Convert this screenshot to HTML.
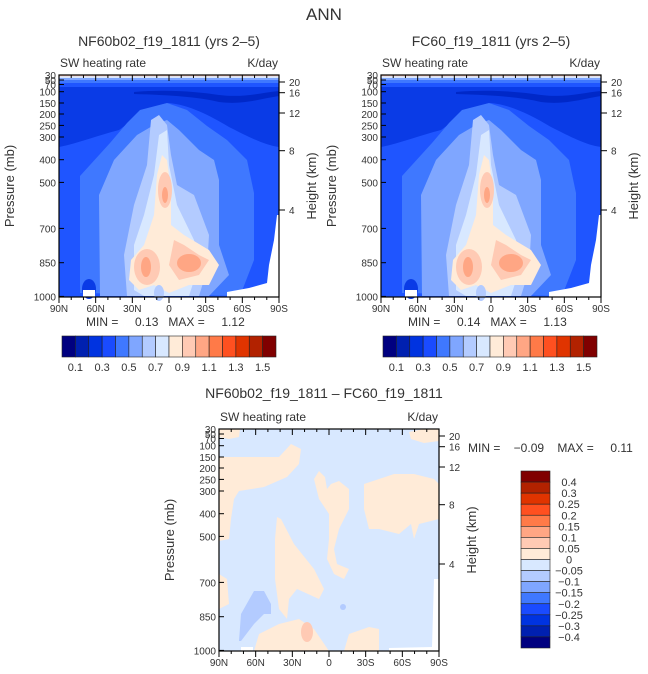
<!DOCTYPE html>
<html><head><meta charset="utf-8"><style>
html,body{margin:0;padding:0;background:#fff;}
svg{display:block;font-family:"Liberation Sans",sans-serif;fill:#333;}
.pre{white-space:pre;}
</style></head><body>
<svg id="s" width="648" height="674" viewBox="0 0 648 674" xmlns="http://www.w3.org/2000/svg">
<defs>
<g id="fld">
<rect x="0" y="0" width="220" height="222" fill="#0a3be6"/>
<path d="M75,17 C110,14 140,17 160,20 C185,23 200,18 220,16 L220,21 C200,24 185,30 160,27 C140,22 110,20 75,19Z" fill="#0028c8"/>
<path d="M0,72 C20,68 40,60 60,55 C80,40 95,30 110,28 C130,30 150,40 170,52 C190,62 205,70 220,72 L220,222 L0,222Z" fill="#1f55ff"/>
<path d="M21,218 L21,101 L51,68 L68,48 L81,35 L108,28 L128,35 L148,51 L168,65 L188,85 L195,118 L195,185 L181,221Z" fill="#3f78ff"/>
<path d="M41,221 L40,120 L55,85 L78,60 L95,50 L108,45 L120,55 L140,75 L155,85 L160,105 L160,170 L170,200 L150,221Z" fill="#7fa6ff"/>
<path d="M68,221 L65,180 L75,130 L88,90 L92,45 L100,40 L108,50 L112,80 L118,110 L135,120 L150,160 L148,195 L140,221Z" fill="#b3cbff"/>
<path d="M75,215 L75,170 L85,140 L95,100 L100,60 L108,55 L110,90 L118,130 L135,165 L140,190 L130,221 L85,221Z" fill="#d8e8ff"/>
<path d="M70,205 L72,185 L85,170 L95,140 L98,100 L103,80 L108,85 L112,115 L112,150 L125,160 L150,175 L160,190 L150,210 L130,210 L110,218 L95,210 L80,215Z" fill="#ffebd8"/>
<ellipse cx="88" cy="192" rx="13" ry="18" fill="#ffcab4"/>
<path d="M110,190 L115,165 L125,170 L140,180 L150,185 L140,200 L120,205Z" fill="#ffcab4"/>
<ellipse cx="106" cy="115" rx="7" ry="18" fill="#ffcab4"/>
<ellipse cx="87" cy="192" rx="5" ry="10" fill="#ffa684"/>
<ellipse cx="130" cy="188" rx="12" ry="9" fill="#ffa684"/>
<ellipse cx="106" cy="120" rx="3" ry="8" fill="#ffa684"/>
<ellipse cx="100" cy="218" rx="5" ry="8" fill="#b3cbff"/>
<ellipse cx="30" cy="214" rx="7" ry="10" fill="#0a3be6"/>
<rect x="0" y="0" width="220" height="12" fill="#1f55ff"/>
<rect x="0" y="0" width="220" height="8" fill="#3f78ff"/>
<rect x="0" y="0" width="220" height="5" fill="#7fa6ff"/>
<rect x="0" y="0" width="220" height="3" fill="#d8e8ff"/>
<rect x="0" y="0" width="220" height="1.3" fill="#ffcab4"/>
<rect x="24" y="215" width="12" height="7" fill="#fff"/>
<path d="M168,222 L168,217 L190,213 L208,208 L210,190 L215,165 L218,140 L220,140 L220,222Z" fill="#fff"/>
</g>
<g id="dfld">
<rect x="0" y="0" width="220" height="222" fill="#d8e8ff"/>
<g fill="#ffebd8">
<path d="M0,0 L21,0 L20,8 L10,10 L0,8Z"/>
<path d="M0,28 L60,28 L72,15 L82,20 L80,35 L68,48 L45,58 L20,62 L15,70 L12,90 L10,110 L0,112Z"/>
<path d="M58,88 L62,90 L75,115 L95,140 L105,160 L100,170 L78,160 L70,170 L68,190 L60,180 L56,150 L56,110Z"/>
<path d="M35,222 L40,205 L60,195 L80,190 L95,200 L110,222Z"/>
<path d="M95,50 L100,42 L106,48 L108,60 L112,55 L120,52 L130,60 L130,80 L120,100 L115,120 L118,135 L130,140 L125,150 L115,145 L108,130 L110,110 L110,85 L100,70Z"/>
<path d="M145,55 L160,50 L175,45 L195,45 L215,50 L220,55 L220,90 L200,95 L195,110 L192,95 L180,105 L160,100 L150,100 L145,80Z"/>
<path d="M190,3 L205,0 L220,0 L220,12 L205,14 L192,10Z"/>
<path d="M125,222 L130,205 L150,198 L160,200 L160,222Z"/>
<path d="M0,145 L8,150 L10,175 L0,180Z"/>
</g>
<ellipse cx="88" cy="203" rx="6" ry="10" fill="#ffcab4"/>
<path d="M20,212 L22,185 L35,162 L45,162 L52,175 L52,185 L45,185 L35,195 L22,212Z" fill="#b3cbff"/>
<ellipse cx="124" cy="178" rx="3" ry="3" fill="#b3cbff"/>
<rect x="22" y="218" width="12" height="4" fill="#fff"/>
<path d="M170,222 L170,219 L213,218 L215,150 L220,150 L220,222Z" fill="#fff"/>
</g>
</defs>
<text x="324" y="20" font-size="17" text-anchor="middle">ANN</text>
</svg>
<script>
var s=document.getElementById('s'),NS='http://www.w3.org/2000/svg';
function el(t,a,txt){var e=document.createElementNS(NS,t);for(var k in a)e.setAttribute(k,a[k]);if(txt!==undefined)e.textContent=txt;s.appendChild(e);return e;}
var P=[[30,0],[50,5],[70,9.5],[100,16.7],[150,28],[200,39],[250,50.4],[300,62],[400,84.7],[500,107.4],[700,153.4],[850,187.7],[1000,221.4]];
var H=[[20,7],[16,17.7],[12,38],[8,75.7],[4,135]];
var XL=['90N','60N','30N','0','30S','60S','90S'];
function panel(x0,y0,ref,title,mm){
  el('use',{href:'#'+ref,x:x0,y:y0});
  el('rect',{x:x0,y:y0,width:220,height:222,fill:'none',stroke:'#000','stroke-width':1.2});
  if(title)el('text',{x:x0+110,y:y0-29,'font-size':14,'text-anchor':'middle'},title);
  el('text',{x:x0+1,y:y0-8,'font-size':12},'SW heating rate');
  el('text',{x:x0+219,y:y0-8,'font-size':12,'text-anchor':'end'},'K/day');
  P.forEach(function(p){var y=y0+p[1];el('line',{x1:x0,y1:y,x2:x0+5,y2:y,stroke:'#000'});
    el('text',{x:x0-3,y:y+4,'font-size':10,'text-anchor':'end'},p[0]);});
  H.forEach(function(h){var y=y0+h[1];el('line',{x1:x0+220,y1:y,x2:x0+226,y2:y,stroke:'#000'});
    el('text',{x:x0+230,y:y+4,'font-size':10},h[0]);});
  for(var i=0;i<=18;i++){var x=x0+i*220/18,L=(i%3==0)?6:3;
    el('line',{x1:x,y1:y0+222,x2:x,y2:y0+222+L,stroke:'#000'});
    el('line',{x1:x,y1:y0,x2:x,y2:y0+L,stroke:'#000'});}
  XL.forEach(function(t,i){el('text',{x:x0+i*220/6,y:y0+237,'font-size':10,'text-anchor':'middle'},t);});
  el('text',{transform:'translate('+(x0-45)+','+(y0+111)+') rotate(-90)','font-size':13,'text-anchor':'middle'},'Pressure (mb)');
  el('text',{transform:'translate('+(x0+257)+','+(y0+111)+') rotate(-90)','font-size':13,'text-anchor':'middle'},'Height (km)');
  if(mm){el('text',{x:x0+27,y:y0+251,'font-size':12,'class':'pre'},mm);}
}
panel(59,75,'fld','NF60b02_f19_1811 (yrs 2\u20135)','MIN =     0.13   MAX =     1.12');
panel(381,75,'fld','FC60_f19_1811 (yrs 2\u20135)','MIN =     0.14   MAX =     1.13');
panel(219,429,'dfld',null,null);
el('text',{x:324,y:398,'font-size':14,'text-anchor':'middle'},'NF60b02_f19_1811 \u2013 FC60_f19_1811');
el('text',{x:468,y:452,'font-size':12,'class':'pre'},'MIN =    \u22120.09    MAX =     0.11');
var C=['#000080','#0020b0','#0033e0','#1a4bff','#3f78ff','#7fa6ff','#b3cbff','#d8e8ff','#ffebd8','#ffcab4','#ffa684','#ff7a48','#ff5020','#e03400','#b22200','#800000'];
function hbar(x0,y0){var w=214/16;C.forEach(function(c,i){el('rect',{x:x0+i*w,y:y0,width:w,height:21,fill:c,stroke:'#222','stroke-width':0.6});});
  ['0.1','0.3','0.5','0.7','0.9','1.1','1.3','1.5'].forEach(function(l,k){el('text',{x:x0+(2*k+1)*w,y:y0+35,'font-size':11,'text-anchor':'middle'},l);});}
hbar(62,336);hbar(383,336);
var h=177/16;C.slice().reverse().forEach(function(c,i){el('rect',{x:521,y:471+i*h,width:29,height:h,fill:c,stroke:'#222','stroke-width':0.6});});
['0.4','0.3','0.25','0.2','0.15','0.1','0.05','0','\u22120.05','\u22120.1','\u22120.15','\u22120.2','\u22120.25','\u22120.3','\u22120.4'].forEach(function(l,i){el('text',{x:569,y:471+(i+1)*h+4,'font-size':11,'text-anchor':'middle'},l);});
</script>
</body></html>
